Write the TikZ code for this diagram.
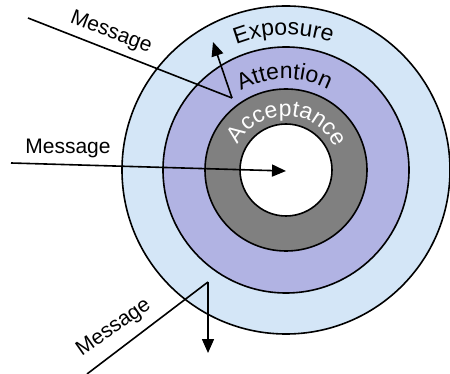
\documentclass[tikz,border=0pt]{standalone}
\usepackage{fontspec}
\setmainfont{Liberation Sans}
\usetikzlibrary{arrows.meta,decorations.text,calc}
\definecolor{expo}{HTML}{D4E6F7}
\definecolor{atte}{HTML}{B1B3E3}
\definecolor{acce}{HTML}{808080}
\begin{document}
\begin{tikzpicture}[x=1pt,y=1pt,
 ring/.style={draw=black,line width=1.6pt},
 msg/.style={line width=1.6pt},
 arr/.style={line width=1.6pt,-{Triangle[length=14pt,width=12pt]}},
 lbl/.style={font=\fontsize{21}{21}\selectfont, inner sep=0pt}]
\useasboundingbox (0,0) rectangle (450,-374);
\coordinate (C) at (286,-170);
\filldraw[ring, fill=expo] (C) circle[radius=164];
\filldraw[ring, fill=atte] (C) circle[radius=123];
\filldraw[ring, fill=acce] (C) circle[radius=81];
\filldraw[ring, fill=white] (C) circle[radius=46];
% ring labels
\path[decorate,decoration={text along path, text align=center,
  text={|\fontsize{23}{23}\selectfont|Exposure}}]
  ($(C)+(181:135)$) arc[start angle=181,end angle=1,radius=135];
\path[decorate,decoration={text along path, text align=center,
  text={|\fontsize{23}{23}\selectfont|Attention}}]
  ($(C)+(181:91)$) arc[start angle=181,end angle=1,radius=91];
\path[decorate,decoration={text along path, text align=center,
  text={|\fontsize{23}{23}\selectfont\color{white}|Acceptance}}]
  ($(C)+(178:54)$) arc[start angle=178,end angle=-2,radius=54];
% message 1 (top)
\coordinate (m1s) at (28,-18);
\coordinate (m1k) at (232,-98);
\coordinate (m1e) at (213,-42);
\draw[msg] (m1s) -- (m1k);
\draw[arr] (m1k) -- (m1e);
\node[lbl, rotate=-21] (l1) at (111,-33) {Message};
% message 2 (middle)
\coordinate (m2s) at (11,-163);
\coordinate (m2e) at (286,-171);
\draw[arr] (m2s) -- (m2e);
\node[lbl] (l2) at (68,-148) {Message};
% message 3 (bottom)
\coordinate (m3s) at (87,-374);
\coordinate (m3k) at (208,-282);
\coordinate (m3e) at (208,-353);
\draw[msg] (m3s) -- (m3k);
\draw[arr] (m3k) -- (m3e);
\node[lbl, rotate=35] (l3) at (114,-328) {Message};
\end{tikzpicture}
\end{document}
